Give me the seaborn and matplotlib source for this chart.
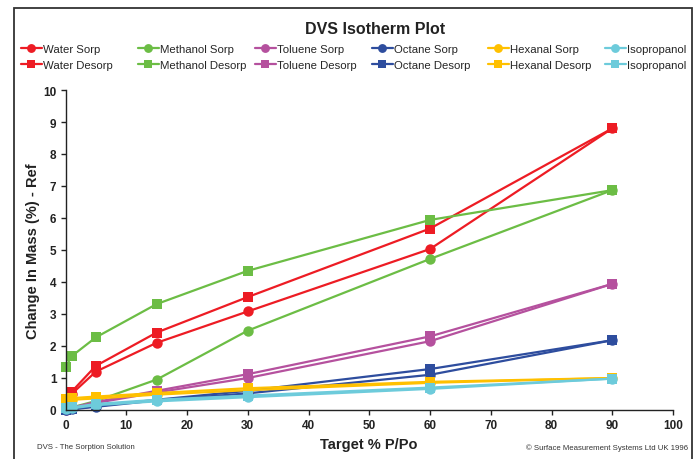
import seaborn as sns
import matplotlib.pyplot as plt
from matplotlib.patches import Rectangle

# target % P/Po steps
steps = [0, 1, 5, 15, 30, 60, 90]
water_steps = [1, 5, 15, 30, 60, 90]

water_sorp = [0.50, 1.20, 2.10, 3.08, 5.03, 8.80]
water_desorp = [0.57, 1.38, 2.42, 3.53, 5.67, 8.80]
methanol_sorp = [0.02, 0.08, 0.28, 0.95, 2.48, 4.72, 6.87]
methanol_desorp = [1.33, 1.68, 2.27, 3.31, 4.35, 5.94, 6.87]
toluene_sorp = [0.00, 0.05, 0.22, 0.55, 1.00, 2.15, 3.94]
toluene_desorp = [0.02, 0.07, 0.25, 0.60, 1.12, 2.30, 3.94]
octane_sorp = [0.00, 0.02, 0.10, 0.30, 0.52, 1.10, 2.18]
octane_desorp = [0.01, 0.03, 0.12, 0.32, 0.60, 1.28, 2.18]
hexanal_sorp = [0.30, 0.32, 0.36, 0.48, 0.62, 0.85, 1.00]
hexanal_desorp = [0.35, 0.37, 0.42, 0.53, 0.68, 0.88, 1.00]
isopropanol_sorp = [0.03, 0.05, 0.15, 0.27, 0.40, 0.66, 0.98]
isopropanol_desorp = [0.06, 0.08, 0.19, 0.32, 0.45, 0.70, 0.98]

series = [
    ("Water", water_steps, water_sorp, water_desorp, "#ED1C24", "Water Sorp", "Water Desorp"),
    ("Methanol", steps, methanol_sorp, methanol_desorp, "#6CBD45", "Methanol Sorp", "Methanol Desorp"),
    ("Toluene", steps, toluene_sorp, toluene_desorp, "#B5519E", "Toluene Sorp", "Toluene Desorp"),
    ("Octane", steps, octane_sorp, octane_desorp, "#2E4D9E", "Octane Sorp", "Octane Desorp"),
    ("Hexanal", steps, hexanal_sorp, hexanal_desorp, "#FFC000", "Hexanal Sorp", "Hexanal Desorp"),
    ("Isopropanol", steps, isopropanol_sorp, isopropanol_desorp, "#6DCBDB", "Isopropanol", "Isopropanol"),
]

sns.set_style("ticks")
plt.rcParams['font.family'] = ['Liberation Sans', 'DejaVu Sans']

W, H = 697, 460
fig = plt.figure(figsize=(W / 100, H / 100), dpi=100)
ax = fig.add_axes([65.5 / W, 1 - 411 / H, (673 - 65.5) / W, (411 - 91) / H])

legend_groups = []
for name, xs, sorp, desorp, color, lab_s, lab_d in series:
    sns.lineplot(x=xs, y=sorp, ax=ax, color=color, marker="o", markersize=7.5,
                 markeredgewidth=0, linewidth=1.6, sort=False, label=lab_s, clip_on=False)
    h_s = ax.lines[-1]
    sns.lineplot(x=xs, y=desorp, ax=ax, color=color, marker="s", markersize=7.5,
                 markeredgewidth=0, linewidth=1.6, sort=False, label=lab_d, clip_on=False)
    h_d = ax.lines[-1]
    legend_groups.append((h_s, h_d, lab_s, lab_d))

if ax.get_legend() is not None:
    ax.get_legend().remove()

ax.set_xlim(0, 100)
ax.set_ylim(0, 10)
ax.set_xticks(range(0, 101, 10))
ax.set_yticks(range(0, 11))
sns.despine(ax=ax)
for sp in ("left", "bottom"):
    ax.spines[sp].set_color("#222222")
    ax.spines[sp].set_linewidth(1.0)
ax.tick_params(direction="out", length=3.5, width=1.0, color="#222222", labelsize=8.5, pad=3)
for lbl in ax.get_xticklabels() + ax.get_yticklabels():
    lbl.set_fontweight("bold")
    lbl.set_color("#222222")

ax.set_xlabel("Target % P/Po", fontsize=10.5, fontweight="bold", color="#222222", labelpad=4)
ax.set_ylabel("Change In Mass (%) - Ref", fontsize=10.5, fontweight="bold", color="#222222", labelpad=2)

fig.text(375 / W, 1 - 30 / H, "DVS Isotherm Plot", ha="center", va="center",
         fontsize=11.5, fontweight="bold", color="#222222")

# legend: one small legend per substance, laid out in six columns
col_x = [21, 138, 255, 372, 488, 605]
for cx, (h_s, h_d, lab_s, lab_d) in zip(col_x, legend_groups):
    fig.legend(handles=[h_s, h_d], labels=[lab_s, lab_d], loc="upper left",
               bbox_to_anchor=(cx / W, 1 - 45 / H), frameon=False, fontsize=8.2,
               handlelength=1.8, handletextpad=0.1, borderpad=0, borderaxespad=0,
               labelspacing=0.5, markerscale=0.85)

fig.text(37 / W, 1 - 448 / H, "DVS - The Sorption Solution", ha="left", va="center",
         fontsize=5.6, color="#333333")
fig.text(688 / W, 1 - 448 / H, "\u00a9 Surface Measurement Systems Ltd UK 1996", ha="right",
         va="center", fontsize=5.6, color="#333333")

fig.patches.append(Rectangle((14 / W, -0.1), (691.5 - 14) / W, 1.1 - 8.5 / H,
                             transform=fig.transFigure, fill=False,
                             edgecolor="#333333", linewidth=1.3))

fig.savefig("out.png", dpi=100)
